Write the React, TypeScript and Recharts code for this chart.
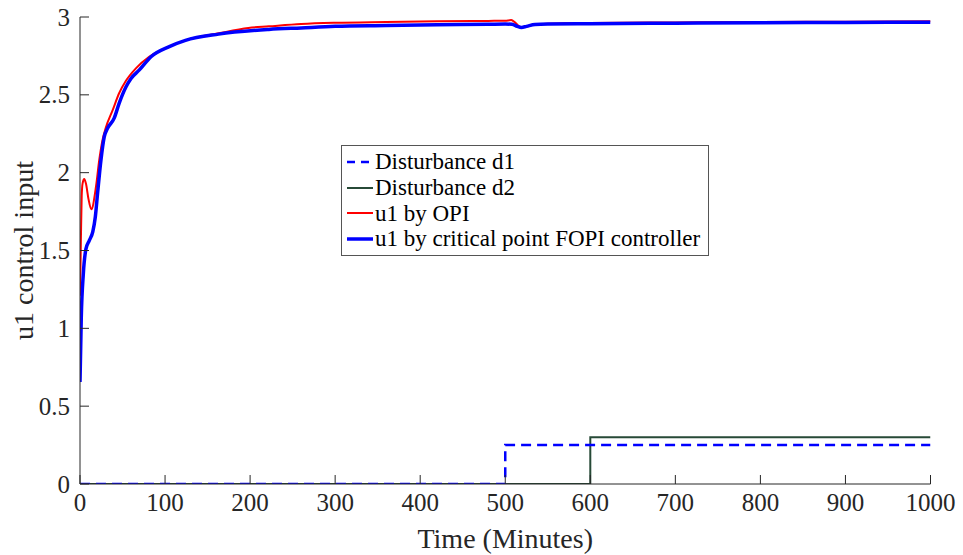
import { LineChart, Line, XAxis, YAxis, Legend, Label } from 'recharts'

const FONT = '"Liberation Serif", "Times New Roman", serif'
const INK = '#262626'

const xTicks = [0, 100, 200, 300, 400, 500, 600, 700, 800, 900, 1000]
const yTicks = [0, 0.5, 1, 1.5, 2, 2.5, 3]

// u1 by OPI
const opiTime = [0, 1, 2, 3, 5, 7, 10, 13.3, 18.8, 22.6, 26.5, 30.4, 38.3, 46, 54, 65.7, 81.3, 97, 124, 163, 198, 222, 260, 300, 360, 420, 480, 500, 507, 512, 518, 524, 532, 545, 570, 600, 700, 800, 900, 1000]
const opiU1 = [1.21, 1.55, 1.85, 1.93, 1.96, 1.93, 1.83, 1.765, 1.91, 2.08, 2.21, 2.29, 2.4, 2.51, 2.59, 2.67, 2.745, 2.79, 2.85, 2.895, 2.93, 2.94, 2.955, 2.963, 2.968, 2.972, 2.975, 2.976, 2.98, 2.962, 2.936, 2.938, 2.95, 2.955, 2.96, 2.962, 2.965, 2.968, 2.97, 2.972]

// u1 by critical point FOPI controller
const fopiTime = [0, 1.5, 3.9, 7, 11, 15, 18, 20.7, 24.6, 28.5, 32.4, 40.2, 46, 54, 60, 69.8, 83.5, 105, 124, 163, 222, 260, 300, 360, 420, 480, 500, 508, 514, 519, 525, 535, 550, 600, 700, 800, 900, 1000]
const fopiU1 = [0.655, 1.07, 1.35, 1.51, 1.565, 1.62, 1.715, 1.87, 2.08, 2.23, 2.285, 2.35, 2.445, 2.55, 2.605, 2.66, 2.745, 2.81, 2.85, 2.89, 2.92, 2.93, 2.94, 2.945, 2.95, 2.953, 2.955, 2.953, 2.94, 2.933, 2.94, 2.952, 2.955, 2.957, 2.96, 2.963, 2.965, 2.967]

const d1Time = [0, 500, 1000]
const d1Value = [0, 0.25, 0.25]
const d2Time = [0, 600, 1000]
const d2Value = [0, 0.3, 0.3]

const toPoints = (t: number[], v: number[]) => t.map((x, i) => ({ t: x, v: v[i] }))

const legendItems = [
  { name: 'Disturbance d1', color: '#0000ff', width: 2.5, dash: '8 6' },
  { name: 'Disturbance d2', color: '#274a37', width: 2, dash: undefined },
  { name: 'u1 by OPI', color: '#ff0000', width: 2, dash: undefined },
  { name: 'u1 by critical point FOPI controller', color: '#0000ff', width: 3.5, dash: undefined },
]

function LegendBox() {
  return (
    <div style={{ border: '1px solid #555', background: '#fff', padding: '3px 4px', fontFamily: FONT, fontSize: 23, color: '#000', width: 358 }}>
      {legendItems.map((it) => (
        <div key={it.name} style={{ display: 'flex', alignItems: 'center', height: 25.8, whiteSpace: 'nowrap' }}>
          <svg width={28} height={10} style={{ flex: 'none' }}>
            <line x1={1} y1={5} x2={27} y2={5} stroke={it.color} strokeWidth={it.width} strokeDasharray={it.dash} />
          </svg>
          <span style={{ marginLeft: 1 }}>{it.name}</span>
        </div>
      ))}
    </div>
  )
}

const XTick = ({ x, y, payload }: any) => (
  <text x={x} y={y} dy={18} textAnchor="middle" fontFamily={FONT} fontSize={25} fill={INK}>
    {payload.value}
  </text>
)

const YTick = ({ x, y, payload }: any) => (
  <text x={x} y={y} dy={8.5} textAnchor="end" fontFamily={FONT} fontSize={25} fill={INK}>
    {payload.value}
  </text>
)

export default function App() {
  return (
    <div style={{ position: 'absolute', left: 0, top: 0, background: '#fff', fontFamily: FONT }}>
      <LineChart width={963} height={555} margin={{ top: 17, right: 32.5, left: 0, bottom: 0 }}>
        <XAxis dataKey="t" type="number" domain={[0, 1000]} ticks={xTicks} allowDataOverflow
          height={71} tickSize={-9} tickMargin={18} tick={<XTick />}
          axisLine={{ stroke: INK }} tickLine={{ stroke: INK }}>
          <Label content={({ viewBox }: any) => (
            <text x={viewBox.x + viewBox.width / 2} y={548} textAnchor="middle"
              fontFamily={FONT} fontSize={28} fill={INK}>Time (Minutes)</text>
          )} />
        </XAxis>
        <XAxis xAxisId="top" orientation="top" dataKey="t" type="number" domain={[0, 1000]} ticks={xTicks}
          allowDataOverflow height={0} tickSize={-9} tick={false}
          axisLine={{ stroke: INK }} tickLine={{ stroke: INK }} />
        <YAxis type="number" domain={[0, 3]} ticks={yTicks} allowDataOverflow width={80}
          tickSize={-9} tickMargin={19} tick={<YTick />}
          axisLine={{ stroke: INK }} tickLine={{ stroke: INK }}>
          <Label content={({ viewBox }: any) => {
            const cx = 33
            const cy = viewBox.y + viewBox.height / 2
            return (
              <text x={cx} y={cy} transform={`rotate(-90 ${cx} ${cy})`} textAnchor="middle"
                fontFamily={FONT} fontSize={28} fill={INK}>u1 control input</text>
            )
          }} />
        </YAxis>
        <YAxis yAxisId="right" orientation="right" type="number" domain={[0, 3]} ticks={yTicks}
          allowDataOverflow width={0} tickSize={-9} tick={false}
          axisLine={{ stroke: INK }} tickLine={{ stroke: INK }} />
        <Legend layout="vertical" align="center" verticalAlign="middle" content={() => <LegendBox />}
          wrapperStyle={{ left: 341, top: 145, width: 368 }} />
        <Line data={toPoints(d2Time, d2Value)} dataKey="v" type="stepAfter" stroke="#274a37"
          strokeWidth={2} dot={false} isAnimationActive={false} />
        <Line data={toPoints(d1Time, d1Value)} dataKey="v" type="stepAfter" stroke="#0000ff"
          strokeWidth={2.5} strokeDasharray="10 6" dot={false} isAnimationActive={false} />
        <Line data={toPoints(opiTime, opiU1)} dataKey="v" type="monotone" stroke="#ff0000"
          strokeWidth={2} dot={false} isAnimationActive={false} />
        <Line data={toPoints(fopiTime, fopiU1)} dataKey="v" type="monotone" stroke="#0000ff"
          strokeWidth={3.5} dot={false} isAnimationActive={false} />
      </LineChart>
    </div>
  )
}
